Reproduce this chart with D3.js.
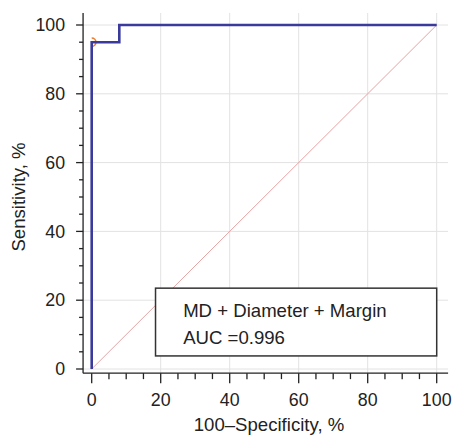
<!DOCTYPE html>
<html><head><meta charset="utf-8">
<script src="https://cdn.jsdelivr.net/npm/d3@7"></script>
<style>body{margin:0;background:#fff}svg{display:block}text{font-family:"Liberation Sans",Arial,sans-serif;fill:#222}</style>
</head><body>
<svg id="c" width="457" height="436"></svg>
<script>
// ROC curve (100-specificity, sensitivity)
const rocX = [0, 0, 8, 8, 100];
const rocY = [0, 95, 95, 100, 100];
const refX = [0, 100];
const refY = [0, 100];
const cutX = [0];
const cutY = [95];
const ticks = [0, 20, 40, 60, 80, 100];
const minorTicks = [0,5,10,15,20,25,30,35,40,45,50,55,60,65,70,75,80,85,90,95,100];
const legendLines = ["MD + Diameter + Margin", "AUC =0.996"];
const xTitle = "100\u2013Specificity, %";
const yTitle = "Sensitivity, %";

const svg = d3.select("#c");
const x = d3.scaleLinear().domain([0, 100]).range([91.7, 436.7]);
const y = d3.scaleLinear().domain([0, 100]).range([369, 25]);
const xMin = -2.5, xMax = 103.3, yMin = -1.2, yMax = 103.5;

// grid
const g = svg.append("g");
g.selectAll(".vg").data(ticks.filter(d => d > 0)).join("line")
  .attr("x1", d => x(d)).attr("x2", d => x(d))
  .attr("y1", y(yMax)).attr("y2", y(yMin))
  .attr("stroke", "#e2e2e2").attr("stroke-width", 1);
g.selectAll(".hg").data(ticks).join("line")
  .attr("y1", d => y(d)).attr("y2", d => y(d))
  .attr("x1", x(xMin)).attr("x2", x(xMax))
  .attr("stroke", "#e2e2e2").attr("stroke-width", 1);

// diagonal
svg.append("line")
  .attr("x1", x(refX[0])).attr("y1", y(refY[0]))
  .attr("x2", x(refX[1])).attr("y2", y(refY[1]))
  .attr("stroke", "#e6a4a4").attr("stroke-width", 1);

// legend box
const lb = svg.append("g");
lb.append("rect").attr("x", x(18.5)).attr("y", y(23.5))
  .attr("width", x(100) - x(18.5)).attr("height", y(3.8) - y(23.5))
  .attr("fill", "#fff").attr("stroke", "#333").attr("stroke-width", 1.5);
lb.selectAll("text").data(legendLines).join("text")
  .attr("x", x(26.5)).attr("y", (d, i) => 317 + i * 26.5)
  .attr("font-size", 18.6).text(d => d);

// cutoff marker (clipped at x=0)
svg.append("clipPath").attr("id", "cp").append("rect")
  .attr("x", x(0)).attr("y", 0).attr("width", 400).attr("height", 436);
svg.append("g").attr("clip-path", "url(#cp)")
  .selectAll("circle").data(cutX).join("circle")
  .attr("cx", d => x(d)).attr("cy", (d, i) => y(cutY[i])).attr("r", 4.2)
  .attr("fill", "none").attr("stroke", "#f07a2a").attr("stroke-width", 1.6);

// ROC line
const pts = rocX.map((d, i) => [d, rocY[i]]);
svg.append("path").datum(pts)
  .attr("d", d3.line().x(d => x(d[0])).y(d => y(d[1])))
  .attr("fill", "none").attr("stroke", "#3a3a9c").attr("stroke-width", 2.6);

// axes
const axX = svg.append("g").attr("transform", `translate(0,${y(yMin)})`);
axX.append("line").attr("x1", x(xMin)).attr("x2", x(xMax)).attr("stroke", "#222").attr("stroke-width", 1.3);
axX.selectAll(".mt").data(minorTicks).join("line")
  .attr("x1", d => x(d)).attr("x2", d => x(d)).attr("y1", 0)
  .attr("y2", d => d % 20 === 0 ? 10 : 6).attr("stroke", "#222").attr("stroke-width", 1.3);
axX.selectAll("text").data(ticks).join("text")
  .attr("x", d => x(d)).attr("y", 33).attr("text-anchor", "middle")
  .attr("font-size", 17.8).text(d => d);

const axY = svg.append("g").attr("transform", `translate(${x(xMin)},0)`);
axY.append("line").attr("y1", y(yMax)).attr("y2", y(yMin)).attr("stroke", "#222").attr("stroke-width", 1.3);
axY.selectAll(".mt").data(minorTicks).join("line")
  .attr("y1", d => y(d)).attr("y2", d => y(d)).attr("x1", 0)
  .attr("x2", d => d % 20 === 0 ? -7 : -4).attr("stroke", "#222").attr("stroke-width", 1.3);
axY.selectAll("text").data(ticks).join("text")
  .attr("x", -18).attr("y", d => y(d)).attr("dy", "0.35em").attr("text-anchor", "end")
  .attr("font-size", 17.8).text(d => d);

// titles
svg.append("text").attr("x", 269).attr("y", 431).attr("text-anchor", "middle")
  .attr("font-size", 18.6).text(xTitle);
svg.append("text").attr("transform", `translate(25,${(y(0) + y(100)) / 2}) rotate(-90)`)
  .attr("text-anchor", "middle").attr("font-size", 18.6).text(yTitle);
</script>
</body></html>
